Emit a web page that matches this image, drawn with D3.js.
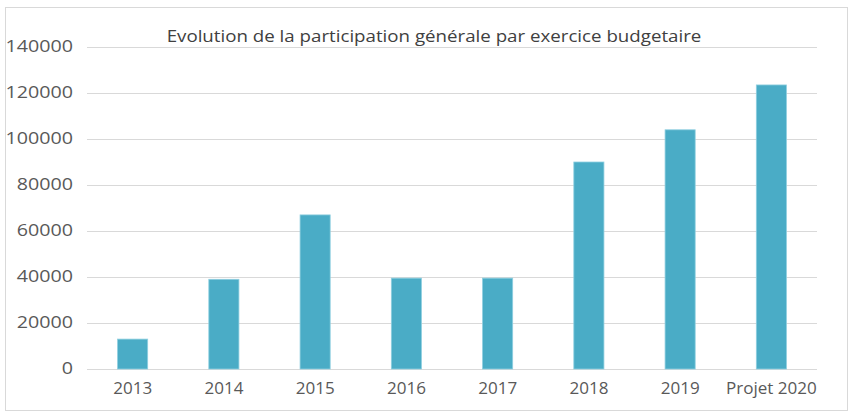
<!DOCTYPE html>
<html><head><meta charset="utf-8">
<script src="https://cdn.jsdelivr.net/npm/d3@7"></script>
<style>body{margin:0;background:#fff}svg{display:block}</style>
</head><body>
<svg id="c" width="850" height="414"></svg>
<script>
const categories = ["2013","2014","2015","2016","2017","2018","2019","Projet 2020"];
const values = [13000, 39000, 67000, 39500, 39500, 90000, 104000, 123500];
const yTicks = [0, 20000, 40000, 60000, 80000, 100000, 120000, 140000];
const title = "Evolution de la participation générale par exercice budgetaire";

const svg = d3.select("#c");
const W = 850, H = 414;
const m = {left: 87, right: 33, top: 47, bottom: 45};

svg.append("rect").attr("x",5.5).attr("y",7.5).attr("width",842).attr("height",403)
  .attr("fill","#fff").attr("stroke","#d9d9d9");

const x = d3.scaleBand().domain(categories).range([m.left, W - m.right]).paddingInner(0.67).paddingOuter(0.335);
const y = d3.scaleLinear().domain([0, 140000]).range([H - m.bottom, m.top]);

const font = "'Open Sans', sans-serif";

function stretch(sel, f){
  sel.each(function(){
    const w = this.getComputedTextLength();
    d3.select(this).attr("textLength", w * f).attr("lengthAdjust", "spacingAndGlyphs");
  });
}

// grid
svg.append("g").selectAll("line").data(yTicks).join("line")
  .attr("x1", m.left).attr("x2", W - m.right)
  .attr("y1", d => Math.round(y(d)) + 0.5).attr("y2", d => Math.round(y(d)) + 0.5)
  .attr("stroke", "#d9d9d9").attr("stroke-width", 1);

// y axis labels
const yAxis = d3.axisLeft(y).tickValues(yTicks).tickFormat(d3.format("d")).tickSize(0).tickPadding(14);
const gy = svg.append("g").attr("transform", `translate(${m.left},0)`).call(yAxis);
gy.select(".domain").remove();
gy.selectAll("text").attr("font-family", font).attr("font-size", 15.5).attr("fill", "#595959");
stretch(gy.selectAll("text"), 1.27);

// bars
svg.append("g").selectAll("rect").data(values).join("rect")
  .attr("x", (d,i) => x(categories[i]))
  .attr("y", d => y(d))
  .attr("width", x.bandwidth())
  .attr("height", d => y(0) - y(d))
  .attr("fill", "#4aacc6").attr("stroke", "#8fcfe0").attr("stroke-width", 0.8);

// x axis labels
const xAxis = d3.axisBottom(x).tickSize(0).tickPadding(14);
const gx = svg.append("g").attr("transform", `translate(0,${y(0)})`).call(xAxis);
gx.select(".domain").remove();
gx.selectAll("text").attr("font-family", font).attr("font-size", 15.5).attr("fill", "#595959");
stretch(gx.selectAll("text"), 1.1);

// title
const t = svg.append("text").attr("class","title").attr("x", 434).attr("y", 42)
  .attr("text-anchor","middle").attr("font-family", font).attr("font-size", 17)
  .attr("fill", "#404040").text(title);
stretch(t, 1.1);
</script>
</body></html>
